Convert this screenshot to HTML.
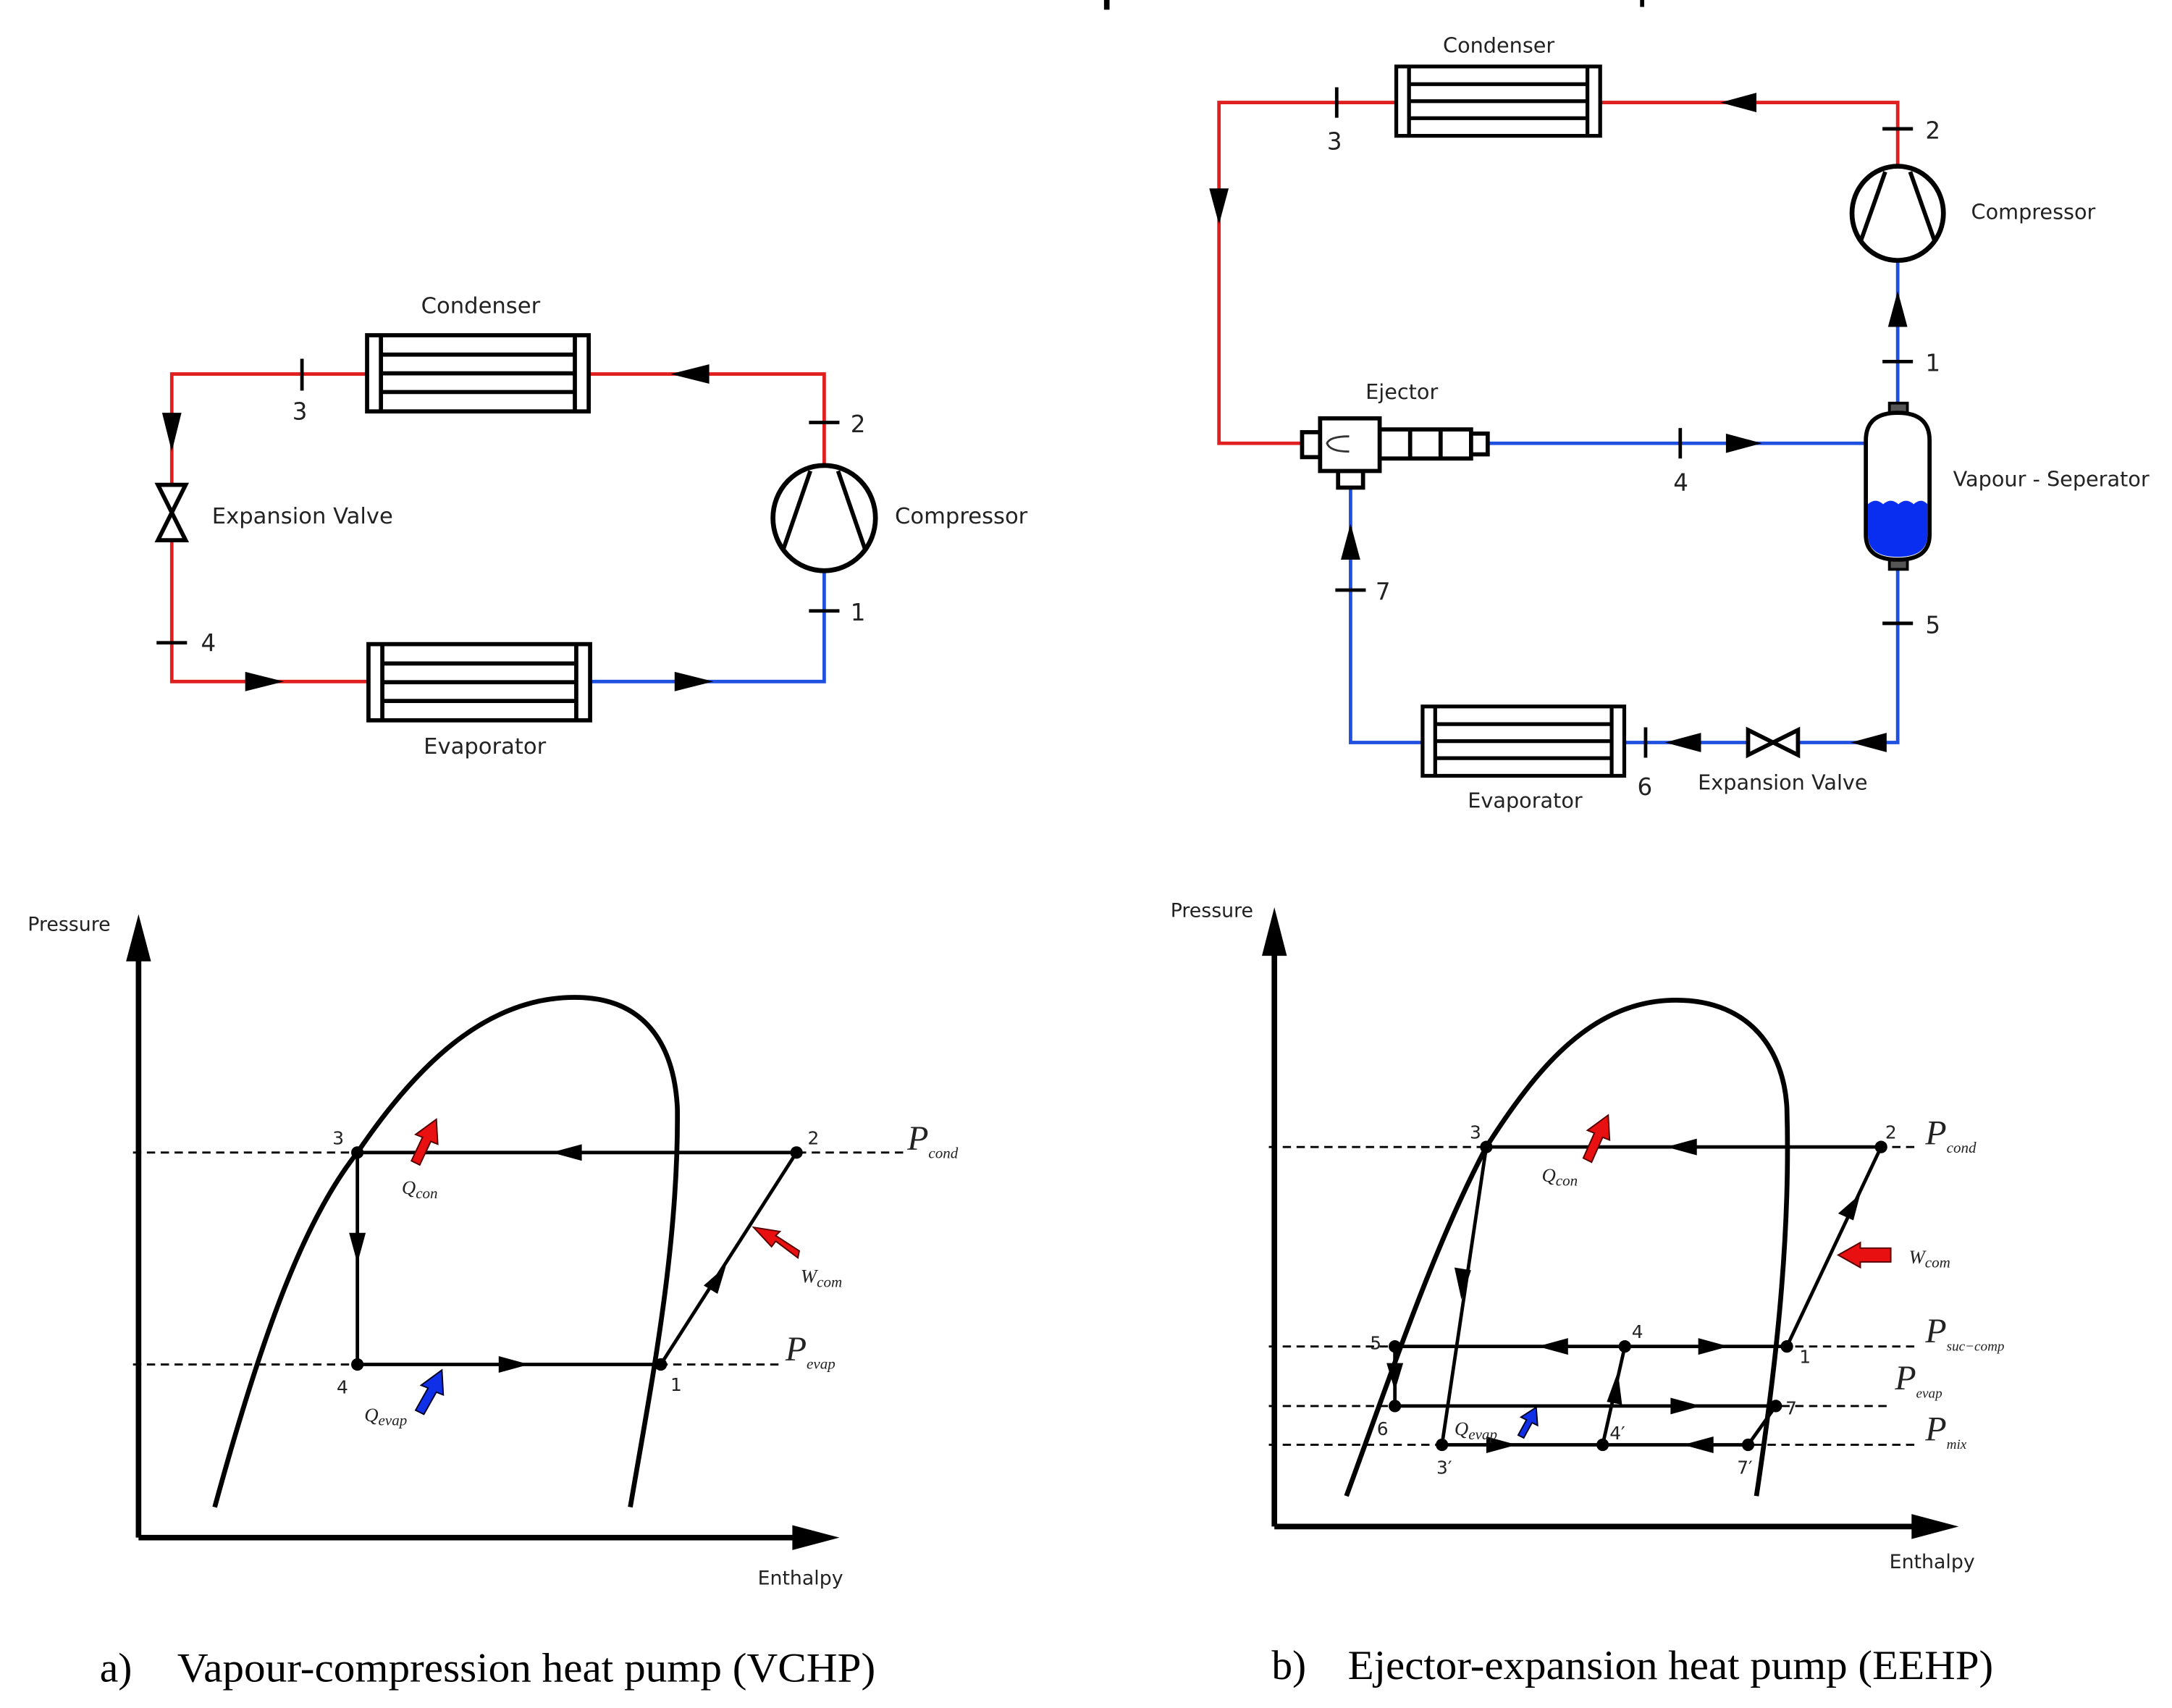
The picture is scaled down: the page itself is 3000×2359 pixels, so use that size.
<!DOCTYPE html>
<html><head><meta charset="utf-8"><style>
html,body{margin:0;padding:0;background:#fff}
svg{display:block}
text{font-family:"DejaVu Sans","Liberation Sans",sans-serif;fill:#222}
.cap{font-family:"Liberation Serif",serif;fill:#000}
.it{font-family:"Liberation Serif",serif;font-style:italic;fill:#222}
</style></head><body>
<svg width="3000" height="2359" viewBox="0 0 1568 1233" xmlns="http://www.w3.org/2000/svg">
<defs>
<g id="hx">
<rect x="0" y="0" width="160" height="55" fill="#fff" stroke="#000" stroke-width="3"/>
<line x1="10" y1="0" x2="10" y2="55" stroke="#000" stroke-width="3"/>
<line x1="150" y1="0" x2="150" y2="55" stroke="#000" stroke-width="3"/>
<line x1="10" y1="14" x2="150" y2="14" stroke="#000" stroke-width="3"/>
<line x1="10" y1="27.5" x2="150" y2="27.5" stroke="#000" stroke-width="3"/>
<line x1="10" y1="41" x2="150" y2="41" stroke="#000" stroke-width="3"/>
</g>
</defs>

<!-- top cut-off title fragments -->
<rect x="797" y="0" width="4" height="7" fill="#000"/>
<rect x="1184" y="0" width="3" height="5" fill="#000"/>

<!-- ============ LEFT CYCLE ============ -->
<g fill="none" stroke-width="2.5">
<polyline points="265,270 124,270 124,492 266,492" stroke="#e02020"/>
<polyline points="425,270 595,270 595,337" stroke="#e02020"/>
<polyline points="425,492 595,492 595,412" stroke="#2050e0"/>
</g>
<use href="#hx" x="265" y="242"/>
<use href="#hx" x="266" y="465"/>
<polygon points="484,270 512,263 512,277" fill="#000"/>
<polygon points="124,326 117,298 131,298" fill="#000"/>
<polygon points="205,492 177,485 177,499" fill="#000"/>
<polygon points="515,492 487,485 487,499" fill="#000"/>
<polygon points="114,350 134,350 124,370 134,390 114,390 124,370" fill="#fff" stroke="#000" stroke-width="3"/>
<ellipse cx="595" cy="374" rx="37" ry="38" fill="#fff" stroke="#000" stroke-width="3.5"/>
<line x1="585" y1="340" x2="565" y2="398" stroke="#000" stroke-width="3"/>
<line x1="605" y1="340" x2="625" y2="398" stroke="#000" stroke-width="3"/>
<g stroke="#000" stroke-width="2.5">
<line x1="218" y1="259" x2="218" y2="282"/>
<line x1="584" y1="305" x2="606" y2="305"/>
<line x1="584" y1="441" x2="606" y2="441"/>
<line x1="113" y1="464" x2="135" y2="464"/>
</g>
<g font-size="17">
<text x="211" y="303">3</text><text x="614" y="312">2</text><text x="614" y="448">1</text><text x="145" y="470">4</text>
<text x="347" y="226" text-anchor="middle" font-size="16">Condenser</text>
<text x="350" y="544" text-anchor="middle" font-size="16">Evaporator</text>
<text x="153" y="378" font-size="16">Expansion Valve</text>
<text x="646" y="378" font-size="16">Compressor</text>
</g>

<!-- ============ RIGHT CYCLE ============ -->
<g fill="none" stroke-width="2.5">
<polyline points="1008,74 880,74 880,320 940,320" stroke="#e02020"/>
<polyline points="1155,74 1370,74 1370,120" stroke="#e02020"/>
<polyline points="1370,188 1370,296" stroke="#2050e0"/>
<polyline points="1074,320 1347,320" stroke="#2050e0"/>
<polyline points="1370,410 1370,536 1297,536" stroke="#2050e0"/>
<polyline points="1262,536 1172,536" stroke="#2050e0"/>
<polyline points="1027,536 975,536 975,352" stroke="#2050e0"/>
</g>
<use href="#hx" transform="translate(1008,48) scale(0.92,0.91)"/>
<use href="#hx" transform="translate(1027,510) scale(0.91,0.91)"/>
<polygon points="1242,74 1268,67 1268,81" fill="#000"/>
<polygon points="880,162 873,136 887,136" fill="#000"/>
<polygon points="1370,210 1363,236 1377,236" fill="#000"/>
<polygon points="1272,320 1246,313 1246,327" fill="#000"/>
<polygon points="1336,536 1362,529 1362,543" fill="#000"/>
<polygon points="1202,536 1228,529 1228,543" fill="#000"/>
<polygon points="975,378 968,404 982,404" fill="#000"/>
<polygon points="1262,527 1262,545 1280,536 1298,527 1298,545 1280,536" fill="#fff" stroke="#000" stroke-width="3"/>
<ellipse cx="1370" cy="154" rx="33" ry="34" fill="#fff" stroke="#000" stroke-width="3.5"/>
<line x1="1361" y1="124" x2="1343" y2="175" stroke="#000" stroke-width="3"/>
<line x1="1379" y1="124" x2="1397" y2="175" stroke="#000" stroke-width="3"/>
<rect x="1364" y="291" width="13" height="8" fill="#555" stroke="#000" stroke-width="2"/>
<rect x="1364" y="402" width="13" height="9" fill="#555" stroke="#000" stroke-width="2"/>
<path d="M1347,318 Q1347,298 1370,298 Q1393,298 1393,318 L1393,386 Q1393,404 1370,404 Q1347,404 1347,386 Z" fill="#fff" stroke="#000" stroke-width="3"/>
<path d="M1348.5,364 q5.5,-5 11,0 q5.5,-5 11,0 q5.5,-5 11,0 q5.5,-5 10,0 L1391.5,386 Q1391.5,402 1370,402 Q1348.5,402 1348.5,386 Z" fill="#0a2ef0"/>
<rect x="940" y="312" width="13" height="18" fill="#fff" stroke="#000" stroke-width="3"/>
<rect x="996" y="310" width="66" height="21" fill="#fff" stroke="#000" stroke-width="3"/>
<line x1="1018" y1="310" x2="1018" y2="331" stroke="#000" stroke-width="3"/>
<line x1="1040" y1="310" x2="1040" y2="331" stroke="#000" stroke-width="3"/>
<rect x="1062" y="313" width="12" height="15" fill="#fff" stroke="#000" stroke-width="3"/>
<rect x="966" y="340" width="18" height="12" fill="#fff" stroke="#000" stroke-width="3"/>
<rect x="953" y="302" width="43" height="38" fill="#fff" stroke="#000" stroke-width="3"/>
<path d="M974,315 Q960,315 958,320 Q960,326 974,326" fill="none" stroke="#333" stroke-width="1.5"/>
<g stroke="#000" stroke-width="2.5">
<line x1="965" y1="63" x2="965" y2="85"/>
<line x1="1359" y1="93" x2="1381" y2="93"/>
<line x1="1359" y1="261" x2="1381" y2="261"/>
<line x1="1213" y1="309" x2="1213" y2="331"/>
<line x1="1359" y1="450" x2="1381" y2="450"/>
<line x1="1188" y1="525" x2="1188" y2="547"/>
<line x1="964" y1="426" x2="986" y2="426"/>
</g>
<g font-size="17">
<text x="958" y="108">3</text><text x="1390" y="100">2</text><text x="1390" y="268">1</text>
<text x="1208" y="354">4</text><text x="1390" y="457">5</text><text x="1182" y="574">6</text><text x="993" y="433">7</text>
<text x="1082" y="38" text-anchor="middle" font-size="15">Condenser</text>
<text x="1101" y="583" text-anchor="middle" font-size="15">Evaporator</text>
<text x="1287" y="570" text-anchor="middle" font-size="15">Expansion Valve</text>
<text x="1012" y="288" text-anchor="middle" font-size="15">Ejector</text>
<text x="1423" y="158" font-size="15">Compressor</text>
<text x="1410" y="351" font-size="15">Vapour - Seperator</text>
</g>

<!-- ============ CHART A ============ -->
<line x1="100" y1="1110" x2="100" y2="680" stroke="#000" stroke-width="4"/>
<polygon points="100,660 91,694 109,694" fill="#000"/>
<line x1="100" y1="1110" x2="585" y2="1110" stroke="#000" stroke-width="4"/>
<polygon points="606,1110 572,1101 572,1119" fill="#000"/>
<text x="20" y="672" font-size="14">Pressure</text>
<text x="547" y="1144" font-size="14">Enthalpy</text>
<path d="M155,1088 C190,960 220,880 258,832 C300,770 350,720 415,720 C470,720 487,760 489,800 C490,900 470,1000 455,1088" fill="none" stroke="#000" stroke-width="3.5"/>
<g stroke="#000" stroke-width="1.5" stroke-dasharray="6,4">
<line x1="96" y1="832" x2="655" y2="832"/>
<line x1="96" y1="985" x2="565" y2="985"/>
</g>
<polyline points="575,832 258,832 258,985 477,985 575,832" stroke="#000" stroke-width="2.5" fill="none"/>
<polygon points="398,832 420,826 420,838" fill="#000"/>
<polygon points="258,912 252,890 264,890" fill="#000"/>
<polygon points="382,985 360,979 360,991" fill="#000"/>
<polygon points="524,914 508,928 518,934" fill="#000"/>
<g fill="#000"><circle cx="258" cy="832" r="4.5"/><circle cx="575" cy="832" r="4.5"/><circle cx="258" cy="985" r="4.5"/><circle cx="477" cy="985" r="4.5"/></g>
<g font-size="13"><text x="240" y="826">3</text><text x="583" y="826">2</text><text x="243" y="1006">4</text><text x="484" y="1004">1</text></g>
<polygon points="297,838 305,821 300,819 315,808 316,826 311,824 303,841" fill="#e81010" stroke="#500" stroke-width="1"/>
<polygon points="576,908 560,896 557,900 544,886 563,889 560,892 577,903" fill="#e81010" stroke="#500" stroke-width="1"/>
<polygon points="300,1018 309,1002 304,1000 319,989 320,1007 315,1005 306,1021" fill="#1030e8" stroke="#002" stroke-width="1"/>
<text class="it" x="290" y="862" font-size="14">Q<tspan font-size="11" dy="3">con</tspan></text>
<text class="it" x="578" y="926" font-size="14">W<tspan font-size="11" dy="3">com</tspan></text>
<text class="it" x="263" y="1026" font-size="14">Q<tspan font-size="11" dy="3">evap</tspan></text>
<text class="it" x="655" y="830" font-size="25">P<tspan font-size="11" dy="6">cond</tspan></text>
<text class="it" x="567" y="982" font-size="25">P<tspan font-size="11" dy="6">evap</tspan></text>

<!-- ============ CHART B ============ -->
<line x1="920" y1="1102" x2="920" y2="676" stroke="#000" stroke-width="4"/>
<polygon points="920,655 911,690 929,690" fill="#000"/>
<line x1="920" y1="1102" x2="1392" y2="1102" stroke="#000" stroke-width="4"/>
<polygon points="1414,1102 1380,1093 1380,1111" fill="#000"/>
<text x="845" y="662" font-size="14">Pressure</text>
<text x="1364" y="1132" font-size="14">Enthalpy</text>
<path d="M972,1080 C1005,990 1035,900 1073,828 C1110,770 1150,722 1210,722 C1265,722 1288,760 1290,800 C1293,900 1280,1000 1268,1080" fill="none" stroke="#000" stroke-width="3.5"/>
<g stroke="#000" stroke-width="1.5" stroke-dasharray="6,4">
<line x1="916" y1="828" x2="1385" y2="828"/>
<line x1="916" y1="972" x2="1385" y2="972"/>
<line x1="916" y1="1015" x2="1365" y2="1015"/>
<line x1="916" y1="1043" x2="1385" y2="1043"/>
</g>
<g stroke="#000" stroke-width="2.5" fill="none">
<line x1="1358" y1="828" x2="1073" y2="828"/>
<line x1="1073" y1="828" x2="1041" y2="1043"/>
<line x1="1007" y1="972" x2="1290" y2="972"/>
<line x1="1007" y1="972" x2="1007" y2="1015"/>
<line x1="1007" y1="1015" x2="1282" y2="1015"/>
<line x1="1282" y1="1015" x2="1262" y2="1043"/>
<line x1="1041" y1="1043" x2="1262" y2="1043"/>
<line x1="1157" y1="1043" x2="1173" y2="972"/>
<line x1="1290" y1="972" x2="1358" y2="828"/>
</g>
<polygon points="1203,828 1225,822 1225,834" fill="#000"/>
<polygon points="1055,938 1050,915 1062,917" fill="#000"/>
<polygon points="1007,1004 1001,984 1013,984" fill="#000"/>
<polygon points="1228,1015 1206,1009 1206,1021" fill="#000"/>
<polygon points="1215,1043 1237,1037 1237,1049" fill="#000"/>
<polygon points="1095,1043 1073,1037 1073,1049" fill="#000"/>
<polygon points="1168,990 1160,1012 1171,1014" fill="#000"/>
<polygon points="1110,972 1132,966 1132,978" fill="#000"/>
<polygon points="1248,972 1226,966 1226,978" fill="#000"/>
<polygon points="1343,862 1327,876 1338,881" fill="#000"/>
<g fill="#000">
<circle cx="1073" cy="828" r="4.5"/><circle cx="1358" cy="828" r="4.5"/>
<circle cx="1007" cy="972" r="4.5"/><circle cx="1173" cy="972" r="4.5"/><circle cx="1290" cy="972" r="4.5"/>
<circle cx="1007" cy="1015" r="4.5"/><circle cx="1282" cy="1015" r="4.5"/>
<circle cx="1041" cy="1043" r="4.5"/><circle cx="1157" cy="1043" r="4.5"/><circle cx="1262" cy="1043" r="4.5"/>
</g>
<g font-size="13">
<text x="1061" y="822">3</text><text x="1361" y="822">2</text><text x="989" y="974">5</text><text x="1178" y="966">4</text>
<text x="1299" y="984">1</text><text x="994" y="1036">6</text><text x="1289" y="1021">7</text>
<text x="1037" y="1064">3′</text><text x="1162" y="1039">4′</text><text x="1254" y="1064">7′</text>
</g>
<polygon points="1143,836 1151,818 1146,816 1161,805 1162,823 1157,821 1149,839" fill="#e81010" stroke="#500" stroke-width="1"/>
<polygon points="1365,901 1343,901 1343,897 1327,906 1343,915 1343,911 1365,911" fill="#e81010" stroke="#500" stroke-width="1"/>
<polygon points="1096,1036 1102,1025 1098,1023 1109,1016 1110,1029 1106,1027 1100,1038" fill="#1030e8" stroke="#002" stroke-width="1"/>
<text class="it" x="1113" y="853" font-size="14">Q<tspan font-size="11" dy="3">con</tspan></text>
<text class="it" x="1378" y="912" font-size="14">W<tspan font-size="11" dy="3">com</tspan></text>
<text class="it" x="1050" y="1036" font-size="14">Q<tspan font-size="11" dy="3">evap</tspan></text>
<text class="it" x="1390" y="826" font-size="25">P<tspan font-size="11" dy="6">cond</tspan></text>
<text class="it" x="1390" y="969" font-size="25">P<tspan font-size="10" dy="6">suc−comp</tspan></text>
<text class="it" x="1368" y="1003" font-size="25">P<tspan font-size="10" dy="6">evap</tspan></text>
<text class="it" x="1390" y="1040" font-size="25">P<tspan font-size="10" dy="6">mix</tspan></text>

<!-- captions -->
<text class="cap" x="72" y="1214" font-size="30">a)</text>
<text class="cap" x="128" y="1214" font-size="30" textLength="504" lengthAdjust="spacingAndGlyphs">Vapour-compression heat pump (VCHP)</text>
<text class="cap" x="918" y="1212" font-size="30">b)</text>
<text class="cap" x="973" y="1212" font-size="30" textLength="466" lengthAdjust="spacingAndGlyphs">Ejector-expansion heat pump (EEHP)</text>
</svg>
</body></html>
